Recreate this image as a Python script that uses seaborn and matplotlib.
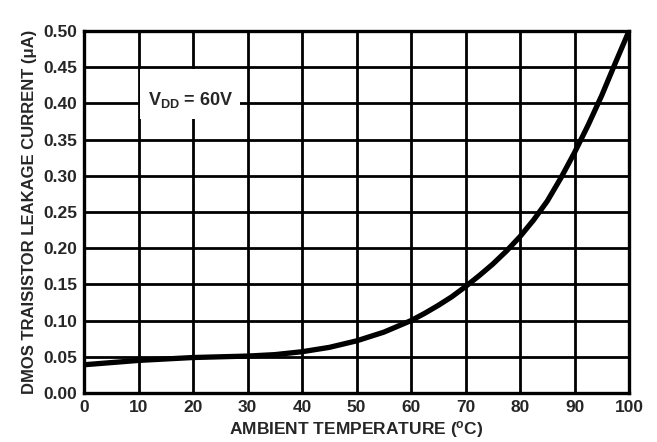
import matplotlib
matplotlib.use("Agg")
import matplotlib.pyplot as plt
from matplotlib.patches import Rectangle
import seaborn as sns
import pandas as pd

temperature = [0, 5, 10, 15, 20, 25, 30, 35, 40, 45, 50, 55, 60, 62.5, 65, 67.5, 70, 72.5, 75, 77.5,
               80, 82.5, 85, 87.5, 90, 92.5, 95, 97.5, 100]
leakage = [0.039, 0.042, 0.045, 0.047, 0.049, 0.050, 0.051, 0.053, 0.057, 0.063, 0.072, 0.084,
           0.100, 0.110, 0.121, 0.133, 0.147, 0.162, 0.178, 0.196,
           0.216, 0.239, 0.265, 0.297, 0.332, 0.370, 0.411, 0.456, 0.500]
x_ticks = [0, 10, 20, 30, 40, 50, 60, 70, 80, 90, 100]
y_ticks = [0.00, 0.05, 0.10, 0.15, 0.20, 0.25, 0.30, 0.35, 0.40, 0.45, 0.50]

sns.set_style("white")
plt.rcParams['font.family'] = ['Liberation Sans', 'DejaVu Sans']
plt.rcParams['font.weight'] = 'bold'
plt.rcParams['mathtext.fontset'] = 'custom'
plt.rcParams['mathtext.rm'] = 'Liberation Sans:bold'
plt.rcParams['mathtext.bf'] = 'Liberation Sans:bold'
plt.rcParams['mathtext.it'] = 'Liberation Sans:bold'

df = pd.DataFrame({"T": temperature, "I": leakage})

fig = plt.figure(figsize=(6.57, 4.42), dpi=100)
ax = fig.add_axes([84/657, 1 - 393/442, (629-84)/657, (393-31)/442])

ax.set_xlim(0, 100)
ax.set_ylim(0, 0.5)
ax.set_xticks(x_ticks)
ax.set_yticks(y_ticks)
ax.set_xticklabels([str(t) for t in x_ticks], fontsize=12.5, fontweight='bold')
ax.set_yticklabels([f"{v:.2f}" for v in y_ticks], fontsize=12.5, fontweight='bold')
ax.tick_params(length=0, pad=5)
ax.grid(True, color='black', linewidth=2.0)
ax.set_axisbelow(True)
for s in ax.spines.values():
    s.set_linewidth(2.4)
    s.set_color('black')

sns.lineplot(data=df, x="T", y="I", ax=ax, color='black', linewidth=3.8, zorder=3)

ax.add_patch(Rectangle((10.35, 0.378), 18.2, 0.069, facecolor='white', edgecolor='none', zorder=2.5))
ax.text(19.5, 0.405, r"V$_{\mathrm{DD}}$ = 60V", fontsize=13, fontweight='bold',
        ha='center', va='center', zorder=4)

ax.set_xlabel("AMBIENT TEMPERATURE ($^{\\mathrm{o}}$C)", fontsize=12.5, fontweight='bold', labelpad=3)
ax.set_ylabel("DMOS TRAISISTOR LEAKAGE CURRENT (μA)", fontsize=12, fontweight='bold', labelpad=4)

fig.savefig("out.png", dpi=100)
